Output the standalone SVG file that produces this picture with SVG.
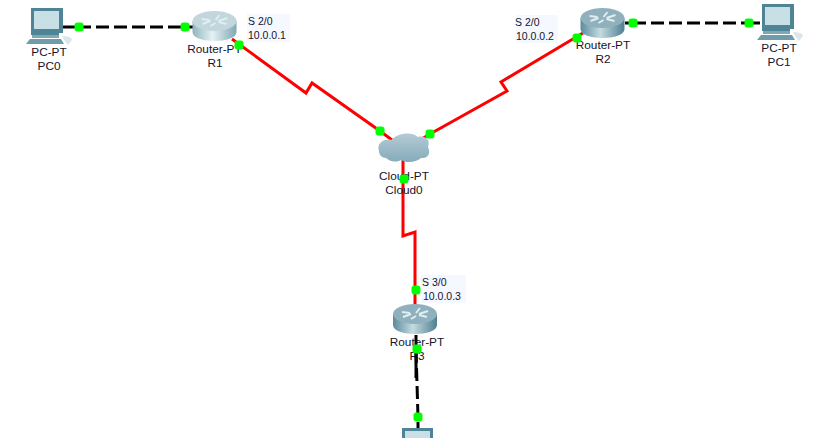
<svg xmlns="http://www.w3.org/2000/svg" width="813" height="438" viewBox="0 0 813 438">
<style>
.lb{font-family:"Liberation Sans",Arial,sans-serif;font-size:11.8px;fill:#14142a;text-anchor:middle}
.ip{font-family:"Liberation Sans",Arial,sans-serif;font-size:10.5px;fill:#14142a}
.tag{fill:#f5f8ff}
.ser{fill:none;stroke:#f00;stroke-width:3}
.eth{fill:none;stroke:#000;stroke-width:3;stroke-dasharray:13 5}
.ethsolid{fill:none;stroke:#000;stroke-width:3}
.dot{fill:#0f0}
.arrows{stroke:#dfeef2;stroke-width:2;fill:none}
</style>
<defs>
<linearGradient id="side" x1="0" x2="1" y1="0" y2="0">
<stop offset="0" stop-color="#8fb4c0"/><stop offset=".45" stop-color="#e6f1f3"/><stop offset="1" stop-color="#7ea7b5"/>
</linearGradient>
<linearGradient id="sideDark" x1="0" x2="1" y1="0" y2="0">
<stop offset="0" stop-color="#5b8b9c"/><stop offset=".45" stop-color="#c4dbe1"/><stop offset="1" stop-color="#4f7f91"/>
</linearGradient>
<linearGradient id="cl" x1="0" x2="0" y1="0" y2="1"><stop offset="0" stop-color="#b4cbd5"/><stop offset="1" stop-color="#85abba"/></linearGradient>
<path id="arr" class="arrows" d="M-13,-7 L-5,-6 M-12,-2 L-4,-5 M13,-8 L4,-5 M5,-11 L1,-6 M1,-3 L-4,0 M4,-4 L12,-2"/>
<g id="router">
<path d="M-22,-5 V6 C-22,12 -11,15 0,15 C11,15 22,12 22,6 V-5 Z" fill="url(#sideDark)"/>
<ellipse cx="0" cy="-5" rx="22" ry="10" fill="#8fb0bc"/>
<use href="#arr"/>
</g>
<g id="routerLight">
<path d="M-22,-5 V6 C-22,12 -11,15 0,15 C11,15 22,12 22,6 V-5 Z" fill="url(#side)"/>
<ellipse cx="0" cy="-5" rx="22" ry="10" fill="#c3d6dc"/>
<use href="#arr"/>
</g>
<g id="pc">
<path d="M5,0 H37 V25 H33 V27 H5 Z" fill="#4f8497"/>
<rect x="8" y="3" width="25" height="18" fill="#c9dfe6"/>
<path d="M6,27 H33 V30 H6 Z" fill="#7fa8b6"/>
<path d="M4,31 H35 L38,36 H0 Z" fill="#6f9cab"/>
<path d="M36,28 C41,28 46,29 46,32 L42,37 L38,32 Z" fill="#dbe7ea"/>
</g>
<rect id="d" x="-4.5" y="-4.5" width="9" height="9" rx="3" class="dot"/>
</defs>
<rect width="813" height="438" fill="#fff"/>
<g id="connectors">
<path class="ethsolid" d="M63,27 H78"/>
<path class="eth" d="M78,27 H185"/>
<path class="ethsolid" d="M185,27 H193"/>
<path class="eth" d="M633,23 H748"/>
<path class="ethsolid" d="M625,23 H635 M748,23 H760"/>
<path class="ser" d="M232,39 L306,93 L312,83 L380,131 L392,140"/>
<path class="ser" d="M583,33 L501,82 L507,91 L430,134 L420,140"/>
<path class="ser" d="M403,160 V236 L415,232 V305"/>
<path class="ethsolid" d="M416,335 V378"/>
<path class="eth" d="M416,350 L418,417 V428"/>
</g>
<g id="PC0"><use href="#pc" x="26" y="8"/><text class="lb" x="49" y="56">PC-PT</text><text class="lb" x="49" y="70">PC0</text></g>
<g id="R1"><use href="#routerLight" x="214.500" y="26"/>
<rect class="tag" x="247" y="14" width="43" height="28"/>
<text class="lb" x="214.500" y="53">Router-PT</text><text class="lb" x="215" y="67">R1</text>
<text class="ip" x="248" y="25">S 2/0</text><text class="ip" x="248" y="39">10.0.0.1</text></g>
<g id="R2"><use href="#router" x="602.500" y="23"/>
<rect class="tag" x="516" y="15" width="42" height="28"/>
<text class="lb" x="603" y="49">Router-PT</text><text class="lb" x="603" y="63">R2</text>
<text class="ip" x="515" y="26">S 2/0</text><text class="ip" x="516" y="40">10.0.0.2</text></g>
<g id="PC1"><use href="#pc" x="757" y="4"/><text class="lb" x="779" y="52">PC-PT</text><text class="lb" x="779" y="66">PC1</text></g>
<g id="Cloud0">
<path d="M379,151 C376,143 385,138 392,140 C396,133 412,131 418,137 C425,135 431,140 428,147 C431,153 428,159 421,158 C416,163 405,163 401,160 C395,163 389,161 386,158 C382,158 379,155 379,151 Z" fill="url(#cl)"/>
<text class="lb" x="404" y="180">Cloud-PT</text><text class="lb" x="404" y="194">Cloud0</text></g>
<g id="R3"><use href="#router" x="415" y="319"/>
<rect class="tag" x="421" y="275" width="45" height="28"/>
<text class="lb" x="417" y="346">Router-PT</text><text class="lb" x="417" y="360">R3</text>
<text class="ip" x="422" y="286">S 3/0</text><text class="ip" x="423" y="300">10.0.0.3</text></g>
<g id="PC2"><path d="M402,438 V428 H433 V438 Z" fill="#4f8497"/><rect x="405" y="431" width="25" height="7" fill="#c9dfe6"/></g>
<g id="links">
<use href="#d" x="79" y="27"/><use href="#d" x="185" y="27"/>
<use href="#d" x="239" y="45"/><use href="#d" x="380" y="131"/>
<use href="#d" x="430" y="134"/><use href="#d" x="577" y="38"/>
<use href="#d" x="633" y="23"/><use href="#d" x="749" y="23"/>
<use href="#d" x="404" y="179"/><use href="#d" x="416" y="290"/>
<use href="#d" x="417" y="349"/><use href="#d" x="418" y="417"/>
</g>
</svg>
